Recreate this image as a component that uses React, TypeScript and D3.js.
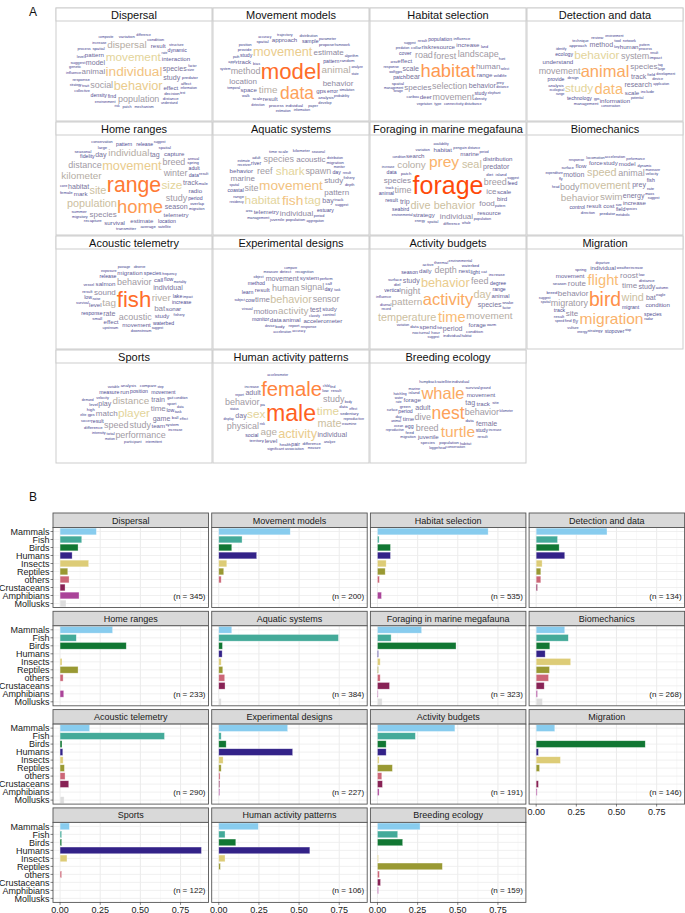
import { useMemo } from 'react'
import * as d3 from 'd3'

const FONT = '"Liberation Sans", Arial, Helvetica, sans-serif'

const taxa = ['Mammals', 'Fish', 'Birds', 'Humans', 'Insects', 'Reptiles', 'others', 'Crustaceans', 'Amphibians', 'Mollusks']
const taxaColors = ['#88CCEE', '#44AA99', '#117733', '#332288', '#DDCC77', '#999933', '#CC6677', '#882255', '#AA4499', '#DDDDDD']

const topics = [
  'Dispersal', 'Movement models', 'Habitat selection', 'Detection and data',
  'Home ranges', 'Aquatic systems', 'Foraging in marine megafauna', 'Biomechanics',
  'Acoustic telemetry', 'Experimental designs', 'Activity budgets', 'Migration',
  'Sports', 'Human activity patterns', 'Breeding ecology',
]
const topicN = [345, 200, 535, 134, 233, 384, 323, 268, 290, 227, 191, 146, 122, 106, 159]

// share of papers per taxon (taxa order)
const pDispersal = [0.226, 0.135, 0.112, 0.075, 0.178, 0.048, 0.056, 0.031, 0.118, 0.037]
const pMovementModels = [0.445, 0.145, 0.081, 0.236, 0.05, 0.031, 0.015, 0, 0, 0]
const pHabitat = [0.689, 0.01, 0.081, 0.081, 0.054, 0.048, 0.012, 0, 0.025, 0]
const pDetection = [0.441, 0.133, 0.143, 0.178, 0.037, 0.029, 0.029, 0.008, 0, 0]
const pHomeRanges = [0.327, 0.101, 0.412, 0, 0.012, 0.112, 0.019, 0, 0.023, 0]
const pAquatic = [0.081, 0.745, 0.023, 0.021, 0.015, 0.025, 0.037, 0.039, 0, 0.015]
const pForaging = [0.275, 0.085, 0.489, 0.006, 0.017, 0.006, 0.017, 0.075, 0.004, 0.029]
const pBiomech = [0.178, 0.2, 0.085, 0.056, 0.215, 0.083, 0.077, 0.05, 0.008, 0.039]
const pAcoustic = [0.184, 0.65, 0.012, 0.017, 0.019, 0.027, 0.031, 0.054, 0, 0.025]
const pExperimental = [0.429, 0.015, 0.046, 0.46, 0.027, 0.015, 0.008, 0.006, 0.006, 0]
const pActivity = [0.482, 0.236, 0.054, 0.054, 0.01, 0.093, 0.027, 0.031, 0.01, 0]
const pMigration = [0.116, 0, 0.679, 0.014, 0.151, 0.021, 0, 0.014, 0.006, 0]
const pSports = [0.058, 0.01, 0.01, 0.88, 0.043, 0, 0.01, 0, 0, 0]
const pHumanActivity = [0.246, 0.039, 0.106, 0.567, 0.039, 0.01, 0, 0, 0, 0]
const pBreeding = [0.265, 0.126, 0.157, 0, 0.006, 0.404, 0.012, 0.019, 0.006, 0]

const shares = [pDispersal, pMovementModels, pHabitat, pDetection, pHomeRanges, pAquatic, pForaging, pBiomech,
  pAcoustic, pExperimental, pActivity, pMigration, pSports, pHumanActivity, pBreeding]

type W = [string, number]
// word frequencies (relative) per topic
const wDispersal: W[] = [['individual', 14], ['behavior', 13], ['movement', 12], ['dispersal', 10], ['social', 9], ['population', 9], ['animal', 8], ['species', 7], ['model', 7], ['study', 7], ['interaction', 6], ['effect', 6], ['pattern', 6], ['result', 6], ['find', 5], ['density', 5], ['dynamic', 5], ['decision', 4], ['spatial', 4], ['response', 4], ['predator', 4], ['condition', 4], ['trait', 4], ['suggest', 4], ['affect', 4], ['variation', 4], ['distance', 4], ['mechanism', 3.5], ['increase', 3.5], ['environment', 3.5], ['influence', 3.5], ['size', 3.5], ['patch', 3.5], ['level', 3.5], ['collective', 3.5], ['structure', 3.5], ['process', 3.5], ['genetic', 3.5], ['information', 3], ['difference', 3], ['understand', 3], ['factor', 3], ['risk', 3], ['rate', 3], ['test', 3], ['strategy', 3], ['composite', 3]]
const wMovementModels: W[] = [['model', 23], ['data', 18], ['movement', 13], ['time', 10], ['animal', 10], ['method', 9], ['estimate', 8], ['behavior', 8], ['location', 8], ['gps', 6], ['approach', 6], ['track', 6], ['result', 6], ['space', 6], ['pattern', 5], ['study', 5], ['sample', 5], ['error', 5], ['analysis', 4], ['individual', 4], ['propose', 4], ['spatial', 4], ['provide', 4], ['random', 4], ['process', 4], ['scale', 4], ['trajectory', 3.5], ['bias', 3.5], ['apply', 3.5], ['distribution', 3.5], ['paper', 3.5], ['walk', 3.5], ['position', 3.5], ['parameter', 3.5], ['develop', 3.5], ['simulation', 3], ['path', 3], ['accuracy', 3], ['algorithm', 3], ['detection', 3], ['information', 3], ['temporal', 3], ['analyze', 3], ['probability', 3], ['system', 3], ['state', 3], ['framework', 3], ['estimation', 3]]
const wHabitat: W[] = [['habitat', 19], ['selection', 9], ['forest', 9], ['landscape', 9], ['movement', 9], ['road', 9], ['species', 8], ['human', 8], ['behavior', 7], ['bear', 7], ['scale', 7], ['resource', 6], ['range', 6], ['increase', 6], ['effect', 6], ['risk', 6], ['deer', 6], ['study', 5], ['patch', 5], ['population', 5], ['cover', 5], ['gps', 4], ['collar', 4], ['wildlife', 4], ['influence', 4], ['spatial', 4], ['caribou', 3.5], ['connectivity', 3.5], ['land', 3.5], ['response', 3.5], ['prey', 3.5], ['density', 3.5], ['type', 3.5], ['result', 3.5], ['elephant', 3], ['vegetation', 3], ['wolf', 3], ['management', 3], ['area', 3], ['predation', 3], ['hunt', 3], ['select', 3], ['distance', 3], ['forage', 3], ['disturbance', 3], ['suggest', 3]]
const wDetection: W[] = [['animal', 17], ['data', 15], ['behavior', 12], ['study', 12], ['system', 9], ['movement', 9], ['species', 8], ['track', 7], ['research', 7], ['method', 7], ['understand', 6], ['human', 6], ['scale', 6], ['information', 6], ['technology', 5], ['ecology', 5], ['provide', 5], ['approach', 4], ['field', 4], ['analysis', 4], ['tool', 4], ['include', 4], ['impact', 4], ['review', 4], ['management', 4], ['design', 3.5], ['network', 3.5], ['technique', 3.5], ['process', 3.5], ['device', 3.5], ['potential', 3], ['ecological', 3], ['environment', 3], ['conservation', 3], ['identify', 3], ['result', 3], ['development', 3], ['application', 3], ['pattern', 3], ['large', 3], ['range', 3], ['gps', 3], ['tag', 3], ['key', 3]]
const wHomeRanges: W[] = [['range', 22], ['home', 19], ['movement', 13], ['size', 12], ['population', 11], ['site', 11], ['kilometer', 10], ['individual', 10], ['winter', 9], ['study', 9], ['distance', 9], ['breed', 9], ['species', 8], ['habitat', 7], ['season', 7], ['track', 7], ['tag', 7], ['day', 7], ['estimate', 6], ['radio', 6], ['telemetry', 6], ['mark', 6], ['survival', 6], ['capture', 6], ['data', 5], ['period', 5], ['adult', 5], ['pattern', 5], ['location', 5], ['release', 5], ['fidelity', 5], ['spatial', 4], ['female', 4], ['male', 4], ['overlap', 4], ['average', 4], ['large', 4], ['summer', 4], ['transmitter', 4], ['recapture', 4], ['spring', 4], ['seasonal', 4], ['migration', 3.5], ['conservation', 3.5], ['migratory', 3.5], ['result', 3.5], ['core', 3.5], ['annual', 3.5], ['satellite', 3.5], ['suggest', 3]]
const wAquatic: W[] = [['movement', 14], ['fish', 14], ['shark', 12], ['habitat', 12], ['tag', 12], ['spawn', 9], ['reef', 9], ['site', 9], ['species', 9], ['study', 8], ['individual', 8], ['acoustic', 8], ['pattern', 8], ['marine', 8], ['bay', 7], ['telemetry', 6], ['behavior', 6], ['river', 5], ['day', 5], ['estuary', 5], ['coastal', 5], ['time scale', 4], ['track', 4], ['kilometer', 4], ['migration', 4], ['range', 4], ['population', 4], ['juvenile', 4], ['receiver', 3.5], ['adult', 3.5], ['fishery', 3.5], ['depth', 3.5], ['period', 3.5], ['management', 3.5], ['suggest', 3.5], ['spatial', 3], ['monitor', 3], ['residency', 3], ['result', 3], ['seasonal', 3], ['distribution', 3], ['area', 3], ['aggregation', 3], ['estimate', 3]]
const wForaging: W[] = [['forage', 26], ['prey', 16], ['behavior', 11], ['seal', 11], ['dive', 11], ['colony', 10], ['breed', 9], ['time', 9], ['species', 8], ['individual', 8], ['ice', 8], ['food', 8], ['predator', 7], ['trip', 7], ['strategy', 6], ['marine', 6], ['search', 6], ['scale', 6], ['habitat', 6], ['resource', 6], ['bird', 6], ['distribution', 6], ['seabird', 5], ['result', 5], ['animal', 5], ['data', 5], ['feed', 5], ['diet', 4], ['patch', 4], ['island', 4], ['track', 3.5], ['spatial', 3.5], ['penguin', 3.5], ['variation', 3.5], ['difference', 3.5], ['population', 3.5], ['pattern', 3], ['suggest', 3], ['energy', 3], ['environmental', 3], ['increase', 3], ['condition', 3], ['distance', 3], ['availability', 3], ['period', 3], ['whale', 3]]
const wBiomech: W[] = [['movement', 11], ['speed', 11], ['swim', 10], ['behavior', 10], ['animal', 9], ['body', 9], ['energy', 7], ['motion', 7], ['prey', 7], ['cost', 6], ['force', 6], ['study', 6], ['result', 6], ['increase', 6], ['model', 6], ['flow', 6], ['field', 5], ['control', 5], ['fish', 5], ['rate', 4], ['predator', 4], ['locomotion', 3.5], ['acceleration', 3.5], ['mass', 3.5], ['surface', 3.5], ['direction', 3.5], ['velocity', 3.5], ['response', 3.5], ['dynamic', 3.5], ['fly', 3.5], ['species', 3], ['metabolic', 3], ['performance', 3], ['size', 3], ['head', 3], ['expenditure', 3], ['suggest', 3], ['maneuver', 3]]
const wAcoustic: W[] = [['fish', 23], ['river', 10], ['tag', 10], ['behavior', 9], ['acoustic', 9], ['sound', 8], ['bat', 8], ['individual', 7], ['rate', 7], ['salmon', 6], ['migration', 6], ['study', 6], ['level', 6], ['call', 6], ['movement', 6], ['sonar', 6], ['effect', 6], ['response', 5], ['release', 5], ['lake', 5], ['low', 5], ['species', 5], ['waterbed', 5], ['flow', 5], ['increase', 5], ['result', 4], ['small', 4], ['vessel', 3.5], ['survival', 3.5], ['fishery', 3.5], ['downstream', 3.5], ['upstream', 3.5], ['exposure', 3.5], ['passage', 3], ['observe', 3], ['suggest', 3], ['mortality', 3], ['impact', 3], ['frequency', 3], ['noise', 3]]
const wExperimental: W[] = [['behavior', 11], ['activity', 10], ['human', 9], ['signal', 9], ['sensor', 9], ['motion', 8], ['time', 8], ['movement', 7], ['test', 7], ['result', 6], ['animal', 6], ['data', 6], ['system', 6], ['accelerometer', 6], ['study', 6], ['method', 5], ['cow', 5], ['day', 5], ['monitor', 5], ['learn', 5], ['report', 4], ['control', 4], ['visual', 4], ['detect', 4], ['calf', 4], ['body', 4], ['recognition', 3.5], ['perform', 3.5], ['response', 3.5], ['object', 3.5], ['measure', 3.5], ['task', 3], ['device', 3], ['accuracy', 3], ['subject', 3], ['compare', 3], ['acceleration', 3], ['classify', 3]]
const wActivity: W[] = [['activity', 17], ['time', 15], ['behavior', 13], ['temperature', 11], ['day', 11], ['pattern', 10], ['movement', 10], ['night', 9], ['feed', 9], ['depth', 9], ['species', 7], ['period', 7], ['study', 7], ['spend', 6], ['nest', 6], ['animal', 6], ['forage', 6], ['daily', 6], ['light', 5], ['range', 5], ['degree', 5], ['vertical', 5], ['season', 5], ['diel', 4], ['condition', 4], ['data', 4], ['cat', 4], ['hour', 4], ['waterbed', 4], ['thermal', 4], ['individual', 4], ['nocturnal', 4], ['snake', 4], ['surface', 4], ['active', 4], ['increase', 4], ['warm', 3.5], ['diurnal', 3.5], ['influence', 3.5], ['environmental', 3.5], ['variation', 3], ['record', 3], ['factor', 3], ['suggest', 3], ['habitat', 3], ['fish', 3]]
const wMigration: W[] = [['bird', 20], ['migration', 16], ['flight', 15], ['wind', 11], ['migratory', 9], ['behavior', 8], ['time', 8], ['route', 8], ['site', 8], ['roost', 8], ['study', 7], ['bat', 7], ['movement', 6], ['individual', 6], ['condition', 6], ['migrant', 5], ['stopover', 5], ['fly', 5], ['track', 5], ['species', 5], ['season', 4], ['distance', 4], ['find', 4], ['strategy', 4], ['result', 4], ['breed', 4], ['spring', 4], ['weather', 3.5], ['radar', 3.5], ['eagle', 3.5], ['low', 3.5], ['vulture', 3.5], ['autumn', 3.5], ['stop', 3], ['energy', 3], ['departure', 3], ['increase', 3], ['speed', 3], ['suggest', 3], ['spatial', 3]]
const wSports: W[] = [['player', 12], ['distance', 10], ['study', 9], ['speed', 9], ['performance', 9], ['match', 8], ['time', 8], ['game', 7], ['play', 7], ['train', 7], ['team', 6], ['run', 6], ['position', 5], ['result', 5], ['measure', 5], ['low', 5], ['movement', 5], ['sport', 4], ['total', 4], ['ball', 4], ['system', 4], ['difference', 4], ['level', 4], ['analysis', 4], ['gps', 4], ['compare', 4], ['high', 4], ['velocity', 3.5], ['gait', 3.5], ['task', 3.5], ['intensity', 3.5], ['participant', 3.5], ['increase', 3.5], ['variable', 3], ['motion', 3], ['data', 3], ['soccer', 3], ['demand', 3], ['condition', 3], ['effect', 3], ['elite', 3], ['step', 3], ['intermittent', 3]]
const wHumanActivity: W[] = [['male', 24], ['female', 21], ['activity', 13], ['sex', 12], ['time', 12], ['mate', 11], ['age', 10], ['behavior', 9], ['physical', 9], ['study', 9], ['individual', 7], ['adult', 7], ['day', 7], ['level', 6], ['pair', 5], ['social', 5], ['health', 4], ['low', 4], ['pa', 4], ['data', 4], ['difference', 4], ['sedentary', 4], ['territory', 4], ['result', 4], ['association', 3.5], ['reproductive', 3.5], ['increase', 3.5], ['significant', 3.5], ['examine', 3.5], ['child', 3], ['risk', 3], ['report', 3], ['status', 3], ['analyze', 3], ['body', 3], ['accelerometer', 3], ['measure', 3], ['display', 3], ['find', 3], ['effect', 3]]
const wBreeding: W[] = [['nest', 18], ['whale', 17], ['turtle', 16], ['behavior', 9], ['dive', 9], ['breed', 9], ['adult', 7], ['tag', 7], ['female', 7], ['movement', 6], ['track', 6], ['time', 6], ['forage', 6], ['juvenile', 6], ['period', 5], ['study', 5], ['egg', 5], ['green', 4], ['island', 4], ['population', 4], ['data', 4], ['survival', 4], ['feed', 4], ['site', 4], ['result', 4], ['satellite', 4], ['individual', 4], ['species', 4], ['day', 3.5], ['marine', 3.5], ['habitat', 3.5], ['humpback', 3.5], ['migration', 3.5], ['ocean', 3], ['increase', 3], ['rate', 3], ['surface', 3], ['water', 3], ['ground', 3], ['hatchling', 3], ['conservation', 3], ['loggerhead', 3], ['kilometer', 3], ['reproductive', 3], ['animal', 3]]

const clouds = [wDispersal, wMovementModels, wHabitat, wDetection, wHomeRanges, wAquatic, wForaging, wBiomech,
  wAcoustic, wExperimental, wActivity, wMigration, wSports, wHumanActivity, wBreeding]

const fontScale = d3.scaleLinear().domain([3, 26]).range([3.3, 25])
const colorScale = d3.scaleLinear<string>()
  .domain([3, 5, 7.5, 9.5, 12, 15, 20, 26])
  .range(['#35358a', '#4e4b92', '#85809f', '#aaa3a6', '#e3d49a', '#f9bb74', '#ff9048', '#ff4a0a'])
  .clamp(true)

type Placed = { text: string; fs: number; x: number; y: number; wt: number }

let measureCtx: CanvasRenderingContext2D | null = null
// simple spiral word-cloud placement using full text boxes so no two words touch
function layoutCloud(words: W[], w: number, h: number): Placed[] {
  if (!measureCtx) measureCtx = document.createElement('canvas').getContext('2d')
  const ctx = measureCtx as CanvasRenderingContext2D
  const sorted = [...words].sort((a, b) => b[1] - a[1])
  const boxes: { x0: number; x1: number; y0: number; y1: number }[] = []
  const out: Placed[] = []
  const pad = 0.2
  sorted.forEach(([text, wt], i) => {
    const fs = fontScale(wt)
    ctx.font = `${fs}px ${FONT}`
    const tw = ctx.measureText(text).width
    const asc = 0.9 * fs
    const desc = 0.22 * fs
    const bh = asc + desc
    const a0 = i * 2.39
    for (let k = 0; k < 5000; k++) {
      const t = k * 0.1
      const r = 0.2 * t
      const cx = w / 2 + r * Math.cos(t + a0) * 1.6
      const cy = h / 2 + r * Math.sin(t + a0) * 0.95
      const b = { x0: cx - tw / 2, x1: cx + tw / 2, y0: cy - bh / 2, y1: cy + bh / 2 }
      if (b.x0 < 3 || b.x1 > w - 3 || b.y0 < 1 || b.y1 > h - 1) continue
      if (boxes.some((o) => b.x0 < o.x1 + pad && b.x1 + pad > o.x0 && b.y0 < o.y1 && b.y1 > o.y0)) continue
      boxes.push(b)
      out.push({ text, fs, x: b.x0, y: b.y0 + asc, wt })
      break
    }
  })
  return out
}

// panel A geometry
const aLeft = 56, aTop = 8, aPitchX = 157, aPitchY = 114, aW = 156, aH = 113, aStrip = 13
// panel B geometry
const bLeft = 53, bTop = 513, bPitchX = 158.7, bPitchY = 98.3, bW = 155.5, bStrip = 14.5, bPlotH = 80

const CloudPanel = ({ i }: { i: number }) => {
  const col = i % 4, row = Math.floor(i / 4)
  const x0 = aLeft + col * aPitchX, y0 = aTop + row * aPitchY
  const placed = useMemo(() => layoutCloud(clouds[i], aW, aH - aStrip), [i])
  return (
    <g transform={`translate(${x0},${y0})`}>
      <rect x={0} y={0} width={aW} height={aH} fill="white" stroke="#cdcdcd" strokeWidth={1} />
      <rect x={0} y={0} width={aW} height={aStrip} fill="white" stroke="#cdcdcd" strokeWidth={1} />
      <text x={aW / 2} y={aStrip / 2 + 4} textAnchor="middle" fontSize={11} fill="#111">{topics[i]}</text>
      <g transform={`translate(0,${aStrip})`}>
        {placed.map((p, k) => (
          <text key={k} x={p.x} y={p.y} fontSize={p.fs} fill={colorScale(p.wt)}>{p.text}</text>
        ))}
      </g>
    </g>
  )
}

const x = d3.scaleLinear().domain([-0.044, 0.924]).range([0, bW])
const y = d3.scaleBand().domain(taxa).range([0, bPlotH]).paddingInner(0.16).paddingOuter(0.08)
const yc = d3.scalePoint().domain(taxa).range([0, bPlotH]).padding(0.5)
const majorTicks = [0, 0.25, 0.5, 0.75]
const minorTicks = [0.125, 0.375, 0.625, 0.875]

const BarPanel = ({ i }: { i: number }) => {
  const col = i % 4, row = Math.floor(i / 4)
  const x0 = bLeft + col * bPitchX, y0 = bTop + row * bPitchY
  const showX = i >= 11
  return (
    <g transform={`translate(${x0},${y0})`}>
      <rect x={0} y={0} width={bW} height={bStrip} fill="#d9d9d9" stroke="#555" strokeWidth={0.9} />
      <text x={bW / 2} y={bStrip / 2 + 3.3} textAnchor="middle" fontSize={9} fill="#1a1a1a">{topics[i]}</text>
      <g transform={`translate(0,${bStrip})`}>
        <rect x={0} y={0} width={bW} height={bPlotH} fill="white" />
        {minorTicks.map((t) => (
          <line key={'n' + t} x1={x(t)} x2={x(t)} y1={0} y2={bPlotH} stroke="#f2f2f2" strokeWidth={0.5} />
        ))}
        {majorTicks.map((t) => (
          <line key={'m' + t} x1={x(t)} x2={x(t)} y1={0} y2={bPlotH} stroke="#e6e6e6" strokeWidth={0.8} />
        ))}
        {taxa.map((t) => (
          <line key={'h' + t} x1={0} x2={bW} y1={yc(t)} y2={yc(t)} stroke="#ececec" strokeWidth={0.8} />
        ))}
        {shares[i].map((v, k) => v > 0 && (
          <rect key={k} x={x(0)} y={y(taxa[k])} width={x(v) - x(0)} height={y.bandwidth()}
            fill={taxaColors[k]} stroke="white" strokeOpacity={0.55} strokeWidth={0.6} />
        ))}
        <text x={bW - 3} y={(yc('Amphibians') as number) + 3} textAnchor="end" fontSize={8} fill="#1a1a1a">
          {`(n = ${topicN[i]})`}
        </text>
        <rect x={0} y={0} width={bW} height={bPlotH} fill="none" stroke="#555" strokeWidth={0.9} />
        {col === 0 && taxa.map((t) => (
          <g key={'y' + t}>
            <line x1={-2.5} x2={0} y1={yc(t)} y2={yc(t)} stroke="#333" strokeWidth={0.6} />
            <text x={-3.5} y={(yc(t) as number) + 3.2} textAnchor="end" fontSize={9} fill="#1a1a1a">{t}</text>
          </g>
        ))}
        {showX && majorTicks.map((t) => (
          <g key={'x' + t}>
            <line x1={x(t)} x2={x(t)} y1={bPlotH} y2={bPlotH + 2.5} stroke="#333" strokeWidth={0.6} />
            <text x={x(t)} y={bPlotH + 11} textAnchor="middle" fontSize={9} fill="#1a1a1a">{d3.format('.2f')(t)}</text>
          </g>
        ))}
      </g>
    </g>
  )
}

export default function App() {
  return (
    <svg width={685} height={913} style={{ position: 'absolute', left: 0, top: 0, background: 'white' }}
      fontFamily={FONT}>
      <rect width={685} height={913} fill="white" />
      <text x={33} y={16} textAnchor="middle" fontSize={12} fill="#111">A</text>
      {topics.map((_, i) => <CloudPanel key={'a' + i} i={i} />)}
      <text x={33} y={501} textAnchor="middle" fontSize={12} fill="#111">B</text>
      {topics.map((_, i) => <BarPanel key={'b' + i} i={i} />)}
    </svg>
  )
}
